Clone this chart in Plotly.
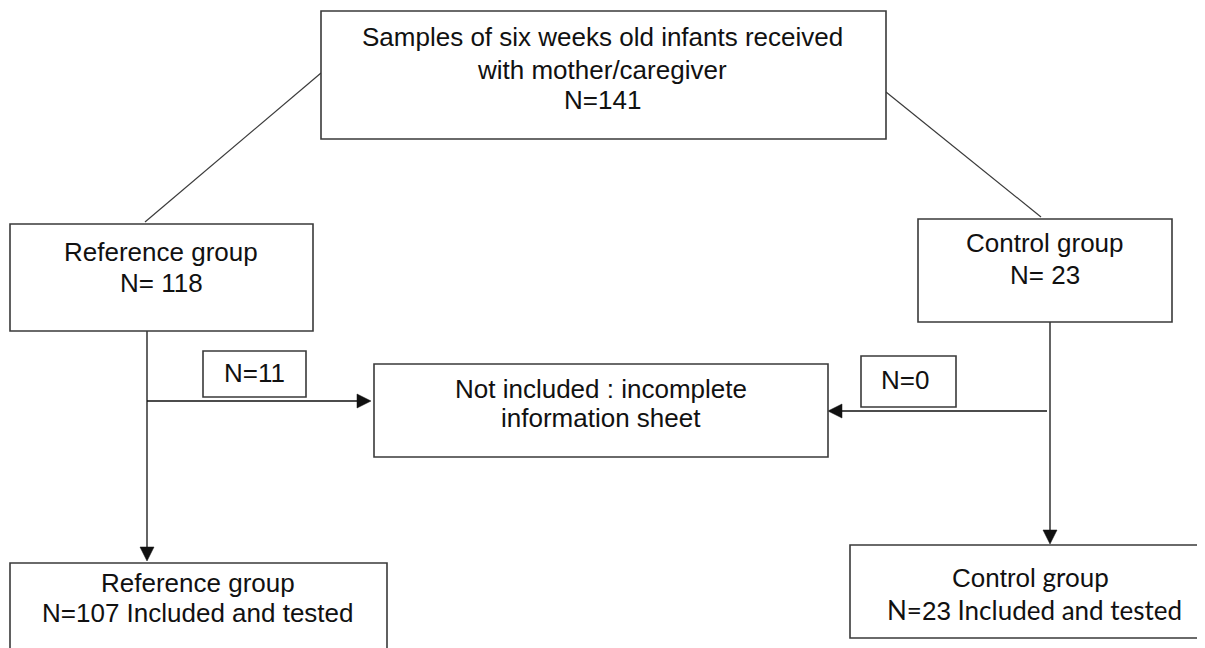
import plotly.graph_objects as go

W, H = 1205, 648
OFF = 8  # default body margin of the html page

# ---- data (flow counts and labels) ----
source_label = ["Samples of six weeks old infants received", "with mother/caregiver"]
total_n = 141
group_names = ["Reference group", "Control group"]
group_n = [118, 23]
excluded_label = ["Not included : incomplete", "information sheet"]
excluded_n = [11, 0]
tested_n = [107, 23]

LINE = "#3a3a3a"
TXT = "#111111"
ARIAL = "Liberation Sans, Arial, sans-serif"
CALIBRI = "Lato, Carlito, sans-serif"
FS = 26

fig = go.Figure()
shapes = []
annos = []


def box(x0, y0, x1, y1):
    shapes.append(dict(type="rect", xref="x", yref="y", x0=x0, y0=y0, x1=x1, y1=y1,
                       line=dict(color=LINE, width=1.6), fillcolor="white", layer="above"))


def seg(x0, y0, x1, y1, color=LINE, width=1.2):
    shapes.append(dict(type="line", xref="x", yref="y", x0=x0, y0=y0, x1=x1, y1=y1,
                       line=dict(color=color, width=width), layer="below"))


def arrow(x0, y0, x1, y1, L=14, Wd=14):
    dx, dy = x1 - x0, y1 - y0
    n = (dx * dx + dy * dy) ** 0.5
    ux, uy = dx / n, dy / n
    bx, by = x1 - ux * L, y1 - uy * L
    seg(x0, y0, bx, by, color="#111111", width=1.3)
    px, py = -uy, ux
    p = (f"M {x1} {y1} L {bx + px * Wd / 2} {by + py * Wd / 2} "
         f"L {bx - px * Wd / 2} {by - py * Wd / 2} Z")
    shapes.append(dict(type="path", xref="x", yref="y", path=p,
                       fillcolor="#111111", line=dict(color="#111111", width=0.5), layer="above"))


def text(x, y, s, size=FS, family=ARIAL):
    annos.append(dict(x=x, y=y, xref="x", yref="y", text=s, showarrow=False,
                      xanchor="center", yanchor="middle",
                      font=dict(family=family, size=size, color=TXT)))


# connectors
seg(321, 73, 145, 222)
seg(886, 92, 1041, 217)
arrow(147, 331, 147, 561)
arrow(147, 401, 371, 401)
arrow(1050, 317, 1050, 544)
arrow(1047, 411, 828, 411)

# boxes
box(321, 11, 886, 139)
box(10, 224, 313, 331)
box(918, 219, 1172, 322)
box(374, 364, 828, 457)
box(203, 351, 306, 397)
box(861, 356, 956, 407)
box(10, 563, 387, 680)
box(850, 545, 1202, 638)

# texts
text(602, 37, source_label[0])
text(602, 70, source_label[1])
text(602, 100, f"N={total_n}")

text(161, 252, group_names[0])
text(161, 283, f"N= {group_n[0]}")
text(1045, 243, group_names[1])
text(1045, 275, f"N= {group_n[1]}")

text(601, 389, excluded_label[0])
text(601, 418, excluded_label[1])
text(254, 373, f"N={excluded_n[0]}")
text(905, 380, f"N={excluded_n[1]}")

text(198, 583, group_names[0])
text(198, 613, f"N={tested_n[0]} Included and tested")

ctl_word, grp_word = group_names[1].split(" ")
text(1030, 577,
     f'<span style="font-family:Liberation Sans;font-size:{FS}px">{ctl_word}</span> {grp_word}',
     size=26, family=CALIBRI)
text(1034, 610,
     f'N=<span style="font-family:Liberation Sans;font-size:{FS}px">{tested_n[1]}</span> Included and tested',
     size=26, family=CALIBRI)

fig.update_layout(
    width=W - OFF, height=H - OFF,
    margin=dict(l=0, r=0, t=0, b=0),
    paper_bgcolor="white", plot_bgcolor="white",
    xaxis=dict(range=[OFF, W], visible=False, fixedrange=True),
    yaxis=dict(range=[H, OFF], visible=False, fixedrange=True),
    shapes=shapes, annotations=annos, showlegend=False,
)

fig.write_html("out.html")
